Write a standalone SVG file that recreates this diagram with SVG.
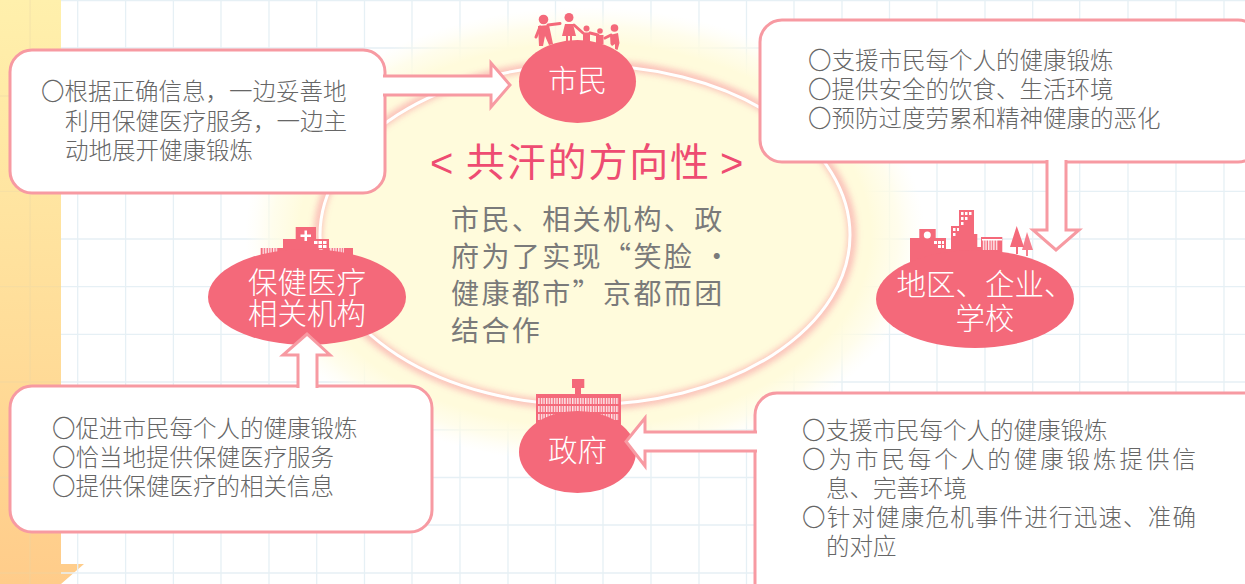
<svg xmlns="http://www.w3.org/2000/svg" width="1245" height="584" viewBox="0 0 1245 584">
<style>
text{font-family:"Noto Sans CJK SC","Noto Sans",sans-serif;font-weight:300}
.b{fill:#fff;stroke:#f79aa2;stroke-width:3}
.a{fill:#fff;stroke:#f79aa2;stroke-width:3;stroke-linejoin:miter}
.o{fill:#f4697a}
.w{fill:#fff}
.s{stroke:#f4697a;stroke-width:3;fill:none;stroke-linecap:round}
.t{font-size:23.5px;fill:#666}
.n{font-size:29.5px;fill:#fff;text-anchor:middle}
.c{font-size:28px;fill:#7a7a7a;letter-spacing:2.4px;font-weight:400}
.h{font-size:39px;fill:#ee4c72;letter-spacing:1.8px;font-weight:400}
.v{font-family:"Liberation Sans",sans-serif;font-size:40px;fill:#ee4c72;font-weight:400}
.g{stroke:#e6f0f5;stroke-width:1.3}
</style>
<defs>
<linearGradient id="strip" x1="0" y1="0" x2="0" y2="1"><stop offset="0" stop-color="#fff0ac"/><stop offset="0.6" stop-color="#ffdc98"/><stop offset="1" stop-color="#ffcc8a"/></linearGradient>
<radialGradient id="glow"><stop offset="0.84" stop-color="#fffbdc"/><stop offset="0.92" stop-color="#fffce4" stop-opacity=".7"/><stop offset="1" stop-color="#fffdf0" stop-opacity="0"/></radialGradient>
<filter id="blur" x="-10%" y="-10%" width="120%" height="120%"><feGaussianBlur stdDeviation="3.500"/></filter>
<pattern id="hatch" width="2.6" height="6" patternUnits="userSpaceOnUse"><rect width="1.4" height="6" fill="#fff" fill-opacity=".85"/></pattern>
</defs>
<rect width="1245" height="584" fill="#fff"/>
<path d="M0 0H61V564H84L61 584H0Z" fill="url(#strip)"/>
<path class="g" d="M61 .7H1245M61 48H1245M61 96H1245M61 143.700H1245M61 191.400H1245M61 239H1245M61 286.700H1245M61 334.400H1245M61 382H1245M61 429.800H1245M61 477.500H1245M61 525H1245M61 573H1245M77.700 0V584M125.600 0V584M173.400 0V584M221 0V584M269 0V584M316.700 0V584M364.500 0V584M412 0V584M460 0V584M508 0V584M555.500 0V584M603 0V584M651 0V584M699 0V584M746.500 0V584M794 0V584M842 0V584M889.500 0V584M937 0V584M985 0V584M1032.700 0V584M1079.700 0V584M1128 0V584M1176 0V584M1224 0V584" fill="none"/>
<path d="M30 0V584M0 96H61M0 191.400H61M0 286.700H61M0 382H61M0 477.500H61M0 573H61" fill="none" stroke="#e8d8a8" stroke-opacity=".35" stroke-width="1.300"/>
<g id="center">
<ellipse cx="585" cy="235" rx="340" ry="228" fill="url(#glow)"/>
<ellipse cx="585" cy="235" rx="267" ry="171" fill="none" stroke="#f9a5a9" stroke-width="7" filter="url(#blur)" opacity=".85"/>
<ellipse cx="585" cy="235" rx="265" ry="170" fill="none" stroke="#fff" stroke-width="3"/>
<text class="v" x="430" y="176.500">&lt;</text>
<text class="h" x="466" y="176">共汗的方向性</text>
<text class="v" x="720" y="176.500">&gt;</text>
<text class="c" x="451" y="229.500">市民、相关机构、政</text>
<text class="c" x="451" y="266.500" letter-spacing="1.100">府为了实现“笑脸 ・</text>
<text class="c" x="451" y="303.500">健康都市”京都而团</text>
<text class="c" x="451" y="340.500">结合作</text>
</g>
<g id="node-citizens">
<circle class="o" cx="543.500" cy="19.500" r="4.800"/>
<path class="o" d="M538 26 549 25 553 44 549 45 545 36 543 46 539 46Z"/>
<path class="s" d="M540 27 536 37M548 25 560 23.500"/>
<circle class="o" cx="569" cy="17.500" r="4.500"/>
<path class="o" d="M565 24H573L576 36H572V42H570V36H568V42H566V36H562Z"/>
<path class="s" d="M574 25 583 33"/>
<circle class="o" cx="586.500" cy="28.500" r="3"/>
<rect class="o" x="583" y="32.500" width="7" height="10"/>
<path class="s" d="M590 33 598 35" stroke-width="2"/>
<circle class="o" cx="600" cy="31" r="2.800"/>
<rect class="o" x="596" y="35" width="7.500" height="9"/>
<circle class="o" cx="614.500" cy="28" r="3.800"/>
<path class="o" d="M610 35 618 33 619.500 43 617.500 50 615 49 615 44 612 46 610.500 44Z"/>
<path class="s" d="M611 35 605 38" stroke-width="2"/>
<ellipse class="o" cx="577.500" cy="81.500" rx="58.500" ry="41.500"/>
<text class="n" x="577.500" y="91">市民</text>
</g>
<g id="node-community">
<path class="o" d="M910 238H919.300V229H935.700V238H946V249H951V226H959V210H974V234H977.300V247H981V237H1002.300V270H910Z"/>
<circle class="w" cx="927.300" cy="235" r="3.500"/>
<path class="w" d="M934 241h3v3h-3zM938 241h3v3h-3zM938 245h3v3h-3zM942 245h2v3h-2zM942 241h2v3h-2zM953 228h2.500v3h-2.500zM957 228h2v3h-2zM953 233h2.500v3h-2.500zM961 212h2.500v3h-2.500zM965 212h2.500v3h-2.500zM969 212h2.500v3h-2.500zM961 217h2.500v3h-2.500zM965 217h2.500v3h-2.500zM961 222h2.500v3h-2.500zM982 239h20v1.500h-20z"/>
<rect x="982" y="240" width="16" height="10" fill="url(#hatch)"/>
<path class="o" d="M1016.700 226 1024 247H1018V254H1016V247H1010Z"/>
<path class="o" d="M1027 232 1033 250H1028V256H1026V250H1022Z" fill-opacity=".85"/>
<ellipse class="o" cx="975" cy="299" rx="99" ry="49"/>
<text class="n" x="985" y="295">地区、企业、</text>
<text class="n" x="985" y="329">学校</text>
</g>
<g id="node-medical">
<path class="o" d="M295.700 227H316V239H329V248H353V270H260.700V248H283V239H295.700Z"/>
<path class="w" d="M304.500 230.500h2.500v4h4v2.500h-4v4h-2.500v-4h-4v-2.500h4zM314 241h3.500v3h-3.500zM318.500 241h3.500v3h-3.500zM323 241h3.500v3h-3.500zM318.500 245h3.500v3h-3.500zM323 245h3.500v3h-3.500zM319 249h3.500v2.500h-3.500z"/>
<rect x="262" y="248" width="16" height="6" fill="url(#hatch)"/>
<rect x="329" y="248" width="15" height="5" fill="url(#hatch)"/>
<ellipse class="o" cx="307" cy="297" rx="99" ry="48"/>
<text class="n" x="307" y="293">保健医疗</text>
<text class="n" x="307" y="324">相关机构</text>
</g>
<g id="node-government">
<path class="o" d="M572 379H584.300V388H581V394H621V425H536V394H575V388H572Z"/>
<rect x="538" y="398" width="81" height="6" fill="url(#hatch)"/>
<rect x="538" y="406" width="81" height="6" fill="url(#hatch)"/>
<rect x="538" y="414" width="81" height="6" fill="url(#hatch)"/>
<ellipse class="o" cx="577.500" cy="452" rx="58.500" ry="41"/>
<text class="n" x="577.500" y="461">政府</text>
</g>
<g id="box-citizens">
<rect class="b" x="10" y="50" width="375" height="143" rx="22"/>
<text class="t" x="41" y="100">〇根据正确信息，一边妥善地</text>
<text class="t" x="65" y="130">利用保健医疗服务，一边主</text>
<text class="t" x="65" y="159">动地展开健康锻炼</text>
</g>
<g id="box-community">
<rect class="b" x="760" y="20" width="500" height="142" rx="22"/>
<text class="t" x="808" y="69">〇支援市民每个人的健康锻炼</text>
<text class="t" x="808" y="98">〇提供安全的饮食、生活环境</text>
<text class="t" x="808" y="127">〇预防过度劳累和精神健康的恶化</text>
</g>
<g id="box-medical">
<rect class="b" x="10" y="386" width="422" height="146" rx="22"/>
<text class="t" x="52" y="437">〇促进市民每个人的健康锻炼</text>
<text class="t" x="52" y="466">〇恰当地提供保健医疗服务</text>
<text class="t" x="52" y="495">〇提供保健医疗的相关信息</text>
</g>
<g id="box-government">
<rect class="b" x="755" y="393" width="510" height="220" rx="22"/>
<text class="t" x="802" y="439">〇支援市民每个人的健康锻炼</text>
<text class="t" x="802" y="468" letter-spacing="2.960">〇为市民每个人的健康锻炼提供信</text>
<text class="t" x="826" y="497">息、完善环境</text>
<text class="t" x="802" y="526" letter-spacing="1.200">〇针对健康危机事件进行迅速、准确</text>
<text class="t" x="826" y="555">的对应</text>
</g>
<g id="connectors">
<path class="a" d="M383 76H491V63L510 85 491 107V95H383"/>
<path class="a" d="M1047 160V230H1033L1056 250 1079 230H1066V160"/>
<path class="a" d="M298 388V355H283L307 334 330 355H317V388"/>
<path class="a" d="M757 432H645V418L626 441.500 645 466V451H757"/>
</g>
</svg>
